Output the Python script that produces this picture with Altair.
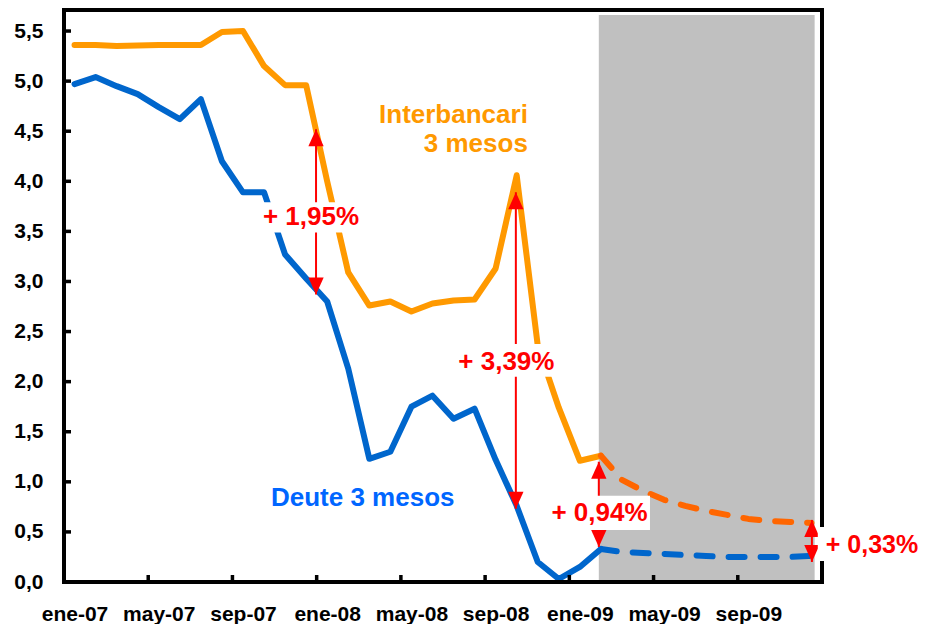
import altair as alt
import pandas as pd

FONT = "Liberation Sans"
XMIN, XMAX = -0.5, 35.5
YMAX = 5.71
W, H = 758, 572

# ---- data (monthly, index 0 = ene-07 ... 35 = dic-09) ----
inter_solid = [5.36, 5.36, 5.35, 5.355, 5.36, 5.36, 5.36, 5.49, 5.50, 5.15, 4.96, 4.96,
               4.00, 3.09, 2.76, 2.80, 2.70, 2.78, 2.81, 2.82, 3.13, 4.06, 2.36, 1.74,
               1.21, 1.26]
inter_fore = [1.26, 1.02, 0.91, 0.82, 0.76, 0.71, 0.67, 0.63, 0.61, 0.60, 0.59]
deute_solid = [4.97, 5.04, 4.95, 4.87, 4.74, 4.62, 4.82, 4.20, 3.89, 3.89, 3.27, 3.03,
               2.80, 2.13, 1.23, 1.30, 1.75, 1.86, 1.63, 1.73, 1.22, 0.76, 0.20, 0.03,
               0.15, 0.33]
deute_fore = [0.33, 0.30, 0.29, 0.28, 0.27, 0.26, 0.25, 0.25, 0.25, 0.25, 0.26]

tick_labels = ["ene-07", "may-07", "sep-07", "ene-08", "may-08", "sep-08",
               "ene-09", "may-09", "sep-09"]
label_pos = [0, 4, 8, 12, 16, 20, 24, 28, 32]
xtick_pos = [3.5, 7.5, 11.5, 15.5, 19.5, 23.5, 27.5, 31.5]
ylabel_vals = [0, 0.5, 1.0, 1.5, 2.0, 2.5, 3.0, 3.5, 4.0, 4.5, 5.0, 5.5]
ytick_vals = [0.5, 1.0, 1.5, 2.0, 2.5, 3.0, 3.5, 4.0, 4.5, 5.0, 5.5]

# forecast shading
shade_x = [24.9]
shade_x2 = [35.15]
shade_top = [5.66]

# arrows
arrow_x = [11.47, 20.96, 24.9, 35.02]
arrow_top = [4.52, 3.89, 1.20, 0.62]
arrow_bot = [2.87, 0.73, 0.35, 0.20]

# annotation labels (with white boxes)
ann_text = ["+ 1,95%", "+ 3,39%", "+ 0,94%"]
ann_x = [11.23, 20.51, 24.93]
ann_y = [3.64, 2.20, 0.69]
box_x = [8.71, 18.02, 22.48, 35.3]
box_x2 = [13.65, 23.0, 27.33, 40.05]
box_y = [3.49, 2.05, 0.52, 0.21]
box_y2 = [3.79, 2.375, 0.86, 0.55]
last_text = ["+ 0,33%"]
last_x = [35.68]
last_y = [0.37]

ORANGE = "#FF9900"
ORANGE_D = "#FF6600"
BLUE = "#0066CC"
RED = "#FF0000"

xs = alt.Scale(domain=[XMIN, XMAX], nice=False, zero=False)
ys = alt.Scale(domain=[0, YMAX], nice=False, zero=False)

label_expr = "[" + ",".join("'%s'" % t for t in tick_labels) + "][floor(datum.value/4)]"


def X(field):
    return alt.X(field, scale=xs, title=None)


def Y(field):
    return alt.Y(field, scale=ys, title=None)


# base layer: shading + axes
shade_df = pd.DataFrame({"x": shade_x, "x2": shade_x2, "y": [0], "y2": shade_top})
shade = alt.Chart(shade_df).mark_rect(color="#C0C0C0").encode(
    x=alt.X("x:Q", scale=xs, title=None,
            axis=alt.Axis(values=label_pos, labelExpr=label_expr)),
    x2="x2:Q",
    y=alt.Y("y:Q", scale=ys, title=None,
            axis=alt.Axis(values=ylabel_vals,
                          labelExpr="replace(format(datum.value, '.1f'), '.', ',')")),
    y2="y2:Q",
)

ytick = alt.Chart(pd.DataFrame({"v": ytick_vals})).mark_rule(color="black", strokeWidth=3.5).encode(
    y=Y("v:Q"), x=alt.value(0), x2=alt.value(7))
xtick = alt.Chart(pd.DataFrame({"t": xtick_pos})).mark_rule(color="black", strokeWidth=3.5).encode(
    x=X("t:Q"), y=alt.value(H), y2=alt.value(H - 7))


def line(idx, vals, color, dash=None):
    df = pd.DataFrame({"m": idx, "v": vals})
    kw = dict(color=color, strokeWidth=6, strokeCap="round", strokeJoin="round")
    if dash:
        kw["strokeDash"] = dash
    return alt.Chart(df).mark_line(**kw).encode(x=X("m:Q"), y=Y("v:Q"))


solid_idx = list(range(0, 26))
fore_idx = list(range(25, 36))
l1 = line(solid_idx, inter_solid, ORANGE)
l2 = line(fore_idx, inter_fore, ORANGE_D, [16, 16])
l3 = line(solid_idx, deute_solid, BLUE)
l4 = line(fore_idx, deute_fore, BLUE, [16, 16])

# frame
frame_df = pd.DataFrame({
    "x": [XMIN, XMIN, XMIN, XMAX], "x2": [XMIN, XMAX, XMAX, XMAX],
    "y": [0, 0, YMAX, 0], "y2": [YMAX, 0, YMAX, YMAX]})
frame = alt.Chart(frame_df).mark_rule(color="black", strokeWidth=4, strokeCap="square").encode(
    x=X("x:Q"), x2="x2:Q", y=Y("y:Q"), y2="y2:Q")

# arrows
arr_df = pd.DataFrame({"x": arrow_x, "top": arrow_top, "bot": arrow_bot})
arr_line = alt.Chart(arr_df).mark_rule(color=RED, strokeWidth=2).encode(
    x=X("x:Q"), y=Y("top:Q"), y2="bot:Q")
head_up = alt.Chart(arr_df).mark_point(
    shape="M0,-1L0.9,1L-0.9,1Z", size=289, filled=True, color=RED, opacity=1,
    strokeWidth=0, yOffset=8.5).encode(x=X("x:Q"), y=Y("top:Q"))
head_down = alt.Chart(arr_df).mark_point(
    shape="M0,1L0.9,-1L-0.9,-1Z", size=289, filled=True, color=RED, opacity=1,
    strokeWidth=0, yOffset=-8.5).encode(x=X("x:Q"), y=Y("bot:Q"))

# label boxes
box_df = pd.DataFrame({"x": box_x, "x2": box_x2, "y": box_y, "y2": box_y2})
boxes = alt.Chart(box_df).mark_rect(color="white").encode(
    x=X("x:Q"), x2="x2:Q", y=Y("y:Q"), y2="y2:Q")

ann = alt.Chart(pd.DataFrame({"t": ann_text, "x": ann_x, "y": ann_y})).mark_text(
    font=FONT, fontSize=26, fontWeight="bold", color=RED, align="center", baseline="middle").encode(
    x=X("x:Q"), y=Y("y:Q"), text="t:N")
ann_last = alt.Chart(pd.DataFrame({"t": last_text, "x": last_x, "y": last_y})).mark_text(
    font=FONT, fontSize=25, fontWeight="bold", color=RED, align="left", baseline="middle").encode(
    x=X("x:Q"), y=Y("y:Q"), text="t:N")

# series labels
inter_lab = alt.Chart(pd.DataFrame({"t": ["Interbancari", "3 mesos"], "x": [21.53, 21.53],
                                    "y": [4.66, 4.37]})).mark_text(
    font=FONT, fontSize=26, fontWeight="bold", color=ORANGE, align="right", baseline="middle").encode(
    x=X("x:Q"), y=Y("y:Q"), text="t:N")
deute_lab = alt.Chart(pd.DataFrame({"t": ["Deute 3 mesos"], "x": [9.33], "y": [0.84]})).mark_text(
    font=FONT, fontSize=26, fontWeight="bold", color="#0066FF", align="left", baseline="middle").encode(
    x=X("x:Q"), y=Y("y:Q"), text="t:N")

chart = alt.layer(
    shade, l1, l2, l3, l4, ytick, xtick, frame, arr_line, head_up, head_down,
    boxes, ann, ann_last, inter_lab, deute_lab
).properties(
    width=W, height=H,
    padding={"left": 56, "top": 2, "right": 96, "bottom": 42},
    autosize=alt.AutoSizeParams(type="none"),
    background="white",
).configure_view(stroke=None).configure_axis(
    ticks=False, domain=False, grid=False,
    labelFontSize=21, labelFont=FONT, labelFontWeight="bold",
    labelColor="black", labelOverlap=False, labelFlush=False,
).configure_axisX(
    labelPadding=38, labelBaseline="alphabetic"
).configure_axisY(
    labelPadding=21
)

chart.save("out.html", embed_options={"renderer": "svg", "actions": False})
